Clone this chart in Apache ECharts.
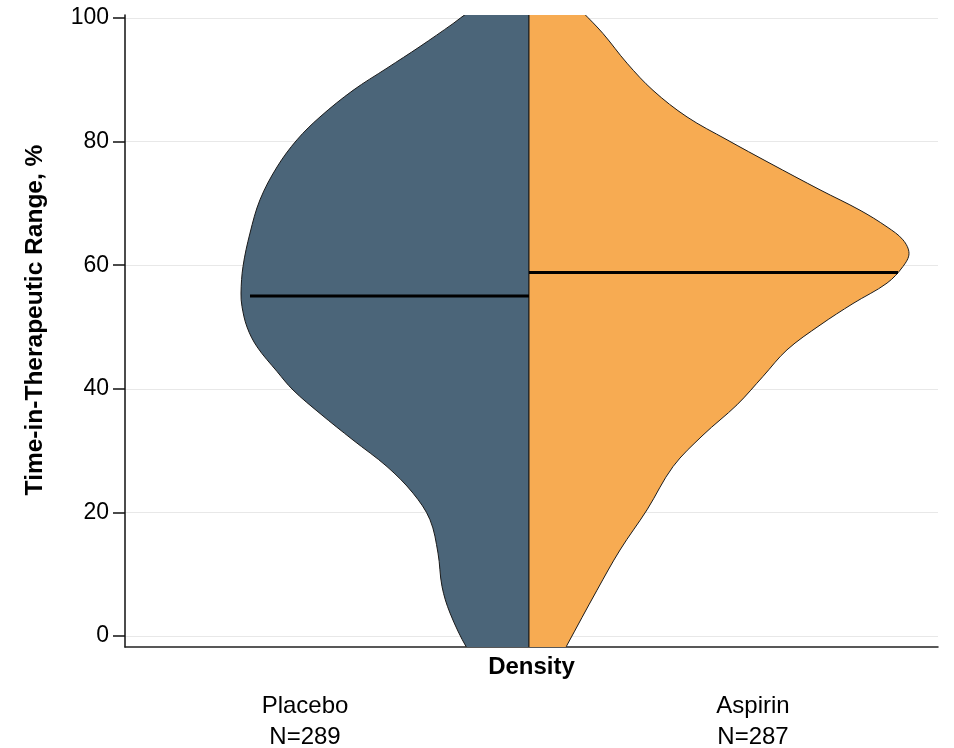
<!DOCTYPE html>
<html>
<head>
<meta charset="utf-8">
<script src="https://cdn.jsdelivr.net/npm/echarts@6/dist/echarts.min.js"></script>
<style>
  html, body { margin: 0; padding: 0; background: #fff; }
  #chart { width: 954px; height: 748px; }
</style>
</head>
<body>
<div id="chart"></div>
<script>
// 数据：时间在治疗范围内(TTR, %) 与对应的核密度（半宽）
const groups = ['Placebo', 'Aspirin'];
const groupN = [289, 287];
const yTicks = [0, 20, 40, 60, 80, 100];

// 安慰剂组：左半边
const placeboTTR = [102, 100.9, 99.1, 95.4, 91.9, 88.3, 84.0, 80.3, 75.9, 70.6, 65.2, 59.8, 55.5, 53.3,
	50.0, 46.8, 42.8, 39.8, 36.0, 31.7, 27.4, 23.1, 18.8, 13.4, 8.0, 3.7, -2.0, -3];
const placeboDensity = [0.0048, 0.0061, 0.0076, 0.0109, 0.0142, 0.0176, 0.0209, 0.0232, 0.0252, 0.0269,
	0.0279, 0.0286, 0.0288, 0.0287, 0.0282, 0.0272, 0.0252, 0.0236, 0.0209, 0.0176, 0.0142, 0.0116,
	0.0099, 0.0091, 0.0087, 0.0079, 0.0062, 0.0055];

// 阿司匹林组：右半边
const aspirinTTR = [102, 100.9, 97.5, 92.7, 88.3, 84.0, 80.3, 76.5, 72.2, 68.9, 66.2, 64.1, 61.9, 59.8,
	57.1, 53.8, 50.3, 46.3, 42.0, 37.4, 32.5, 27.4, 20.4, 13.9, 7.4, -1.5, -3];
const aspirinDensity = [0.0047, 0.0054, 0.0074, 0.0098, 0.0124, 0.0158, 0.0198, 0.0241, 0.0291, 0.0331,
	0.0358, 0.0374, 0.0380, 0.0374, 0.0358, 0.0324, 0.0291, 0.0258, 0.0234, 0.0208, 0.0174, 0.0144,
	0.0118, 0.0091, 0.0068, 0.0038, 0.0033];

// 中位数线
const medianTTR = [55.0, 58.8];
const medianDensity = [0.0279, 0.0369];

const colors = ['#4b6579', '#f7ab52'];

// 把一半小提琴的数据点转换成 [x, y]，左边取负
function halfPoints(ttr, dens, side) {
	return ttr.map((v, i) => [side * dens[i], v]);
}

function violinSeries(name, points, color) {
	return {
		name: name,
		type: 'custom',
		clip: true,
		z: 2,
		data: [0],
		renderItem: function (params, api) {
			const outline = points.map((p) => api.coord(p));
			const top = api.coord([0, points[0][1]]);
			const bottom = api.coord([0, points[points.length - 1][1]]);
			const pts = [top].concat(outline, [bottom]);
			return {
				type: 'group',
				children: [
					{
						type: 'polyline',
						shape: { points: pts, smooth: 0.35 },
						style: { fill: color, stroke: '#1a1a1a', lineWidth: 1 },
					},
					{
						type: 'line',
						shape: { x1: top[0], y1: top[1], x2: bottom[0], y2: bottom[1] },
						style: { stroke: '#1a1a1a', lineWidth: 1 },
					},
				],
			};
		},
	};
}

const myChart = echarts.init(document.getElementById('chart'));
myChart.setOption({
	animation: false,
	grid: { left: 125, right: 16, top: 15, bottom: 101, outerBoundsMode: 'none', containLabel: false },
	xAxis: {
		type: 'value',
		min: -0.0404,
		max: 0.0409,
		name: 'Density',
		nameLocation: 'middle',
		nameGap: 8,
		nameMoveOverlap: false,
		nameTextStyle: { fontFamily: 'Liberation Sans', fontSize: 24, fontWeight: 'bold', color: '#000', verticalAlign: 'top' },
		axisLine: { show: true, onZero: false, lineStyle: { color: '#222', width: 1.5 } },
		axisTick: { show: false },
		splitLine: { show: false },
		axisLabel: {
			customValues: [-0.0224, 0.0224],
			margin: 44,
			fontFamily: 'Liberation Sans',
			fontSize: 24,
			lineHeight: 31,
			color: '#000',
			formatter: (v) => (v < 0 ? `${groups[0]}\nN=${groupN[0]}` : `${groups[1]}\nN=${groupN[1]}`),
		},
	},
	yAxis: {
		type: 'value',
		min: -1.8,
		max: 100.5,
		axisLine: { show: true, onZero: false, lineStyle: { color: '#111', width: 1.5 } },
		axisTick: { show: true, customValues: yTicks, length: 12, lineStyle: { color: '#111', width: 1.5 } },
		axisLabel: {
			customValues: yTicks,
			margin: 16,
			fontFamily: 'Liberation Sans',
			fontSize: 23,
			color: '#000',
		},
		splitLine: { show: true, customValues: yTicks, lineStyle: { color: '#e8e8e8', width: 1 } },
	},
	graphic: [
		{
			type: 'text',
			x: 35,
			y: 320,
			rotation: Math.PI / 2,
			style: {
				text: 'Time-in-Therapeutic Range, %',
				fontFamily: 'Liberation Sans',
				fontSize: 24.5,
				fontWeight: 'bold',
				fill: '#000',
				align: 'center',
				verticalAlign: 'middle',
			},
		},
	],
	series: [
		violinSeries(groups[0], halfPoints(placeboTTR, placeboDensity, -1), colors[0]),
		violinSeries(groups[1], halfPoints(aspirinTTR, aspirinDensity, 1), colors[1]),
		{
			type: 'line',
			z: 3,
			symbol: 'none',
			lineStyle: { color: '#000', width: 3 },
			data: [[-medianDensity[0], medianTTR[0]], [0, medianTTR[0]]],
		},
		{
			type: 'line',
			z: 3,
			symbol: 'none',
			lineStyle: { color: '#000', width: 3 },
			data: [[0, medianTTR[1]], [medianDensity[1], medianTTR[1]]],
		},
	],
});
</script>
</body>
</html>
